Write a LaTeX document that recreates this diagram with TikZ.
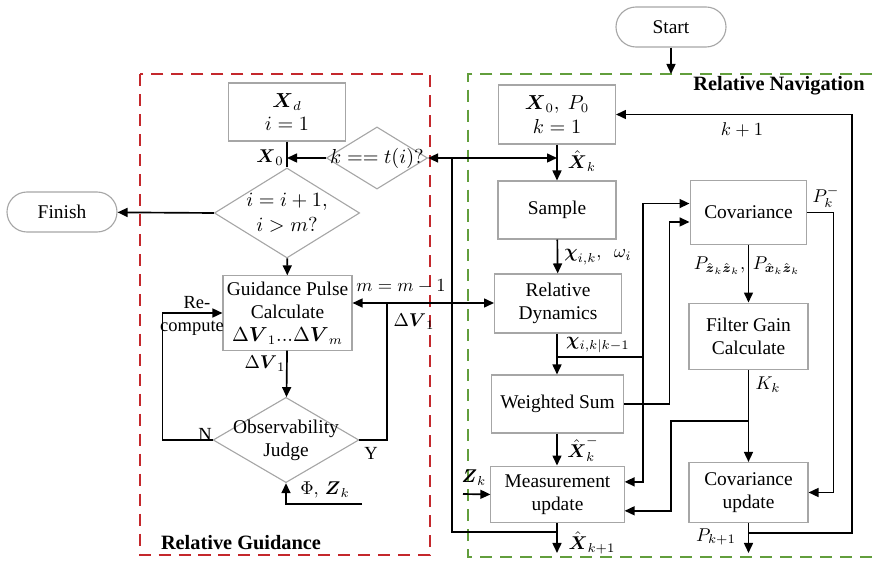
\documentclass[tikz,border=0pt]{standalone}
\usepackage{amsmath,amssymb}
\usepackage{fontspec}
\setmainfont{Liberation Serif}
\usepackage{tikz}
\usetikzlibrary{arrows.meta,shapes.geometric}
\definecolor{guidred}{RGB}{196,40,44}
\definecolor{navgreen}{RGB}{98,158,60}

\begin{document}
\begin{tikzpicture}[x=0.019cm,y=-0.019cm,>={Triangle[length=1.9mm,width=1.7mm]},
  font=\fontsize{10.5}{12.5}\selectfont,line cap=butt,
  box/.style={draw=gray!70,line width=0.6pt,align=center,inner sep=1pt},
  term/.style={box,rounded corners=0.38cm,minimum width=2.09cm,minimum height=0.76cm},
  dia/.style={draw=gray!70,line width=0.6pt,diamond,inner sep=0pt},
  flow/.style={->,line width=0.9pt},
  wire/.style={line width=0.9pt},
  lbl/.style={inner sep=0.5pt,font=\fontsize{10}{12}\selectfont},
  region/.style={line width=1.1pt,dash pattern=on 6.5pt off 4.3pt},
  title/.style={font=\fontsize{11}{13}\selectfont\bfseries}]
\useasboundingbox (0,0) rectangle (872,562);
% dashed regions
\draw[region,guidred] (140,74) rectangle (430,555);
\draw[region,navgreen] (872,74) -- (468,74) -- (468,557) -- (872,557);
\node[title] (navtitle) at (779,86) {Relative Navigation};
\node[title] (guidtitle) at (241,543) {Relative Guidance};
% terminals
\node[term] (start) at (671,27) {Start};
\node[term] (finish) at (62,212) {Finish};
% guidance side
\node[box,minimum width=2.22cm,minimum height=1.10cm] (xd) at (287,112) {$\boldsymbol{X}_d$\\$i=1$};
\node[dia,minimum width=1.92cm,minimum height=1.18cm,label=center:{$k==t(i)?$}] (kt) at (377,158) {};
\node[dia,minimum width=2.76cm,minimum height=1.71cm,label={[align=center]center:$i=i+1,$\\[1pt]$i>m?$}] (idia) at (287,213) {};
\node[box,minimum width=2.45cm,minimum height=1.41cm] (gp) at (287.5,313) {Guidance Pulse\\Calculate\\$\Delta\boldsymbol{V}_1...\Delta\boldsymbol{V}_m$};
\node[dia,minimum width=2.77cm,minimum height=1.62cm,label={[align=center]center:Observability\\Judge}] (obs) at (286,440) {};
% navigation side
\node[box,minimum width=2.22cm,minimum height=1.12cm] (x0) at (557,114.5) {$\boldsymbol{X}_0,\ P_0$\\$k=1$};
\node[box,minimum width=2.24cm,minimum height=1.10cm] (sample) at (557,210) {Sample};
\node[box,minimum width=2.41cm,minimum height=1.12cm] (reldyn) at (558,303.5) {Relative\\Dynamics};
\node[box,minimum width=2.51cm,minimum height=1.10cm] (wsum) at (557.5,404) {Weighted Sum};
\node[box,minimum width=2.53cm,minimum height=1.08cm] (meas) at (557.5,494.5) {Measurement\\update};
\node[box,minimum width=2.22cm,minimum height=1.20cm] (cov) at (748.5,212.5) {Covariance};
\node[box,minimum width=2.26cm,minimum height=1.27cm] (fgain) at (748.5,336.5) {Filter Gain\\Calculate};
\node[box,minimum width=2.26cm,minimum height=1.14cm] (covup) at (748.5,492.5) {Covariance\\update};
% free ends
\coordinate (navin) at (671,74);
\coordinate (fb) at (452,158);
\coordinate (fbb) at (452,532);
\coordinate (kl) at (852,533);
\coordinate (outlvl) at (0,553);
\coordinate (yj) at (387,303);
\coordinate (phin) at (362,504);
\coordinate (chi) at (557,357);
\coordinate (busa) at (643,357);
\coordinate (kb) at (748,421);
\coordinate (zin) at (463,494);
% guidance connectors
\draw[flow] (start) -- (navin);
\draw[wire] (xd) -- (idia);
\draw[flow] (kt.west) -- (xd.south |- kt.west);
\draw[flow] (idia.west) -- (finish);
\draw[flow] (idia) -- (gp);
\draw[flow] (gp) -- (obs);
\draw[flow] (obs.west) -- ++(-50,0) |- (gp.west);
\draw[wire] (obs.east) -| (yj);
\draw[flow] (yj) -- (yj -| gp.east);
\draw[flow] (yj) -- (yj -| reldyn.west);
\draw[flow] (phin) -- (phin -| obs.south) -- (obs.south);
% feedback of the state
\draw[flow] (fb) -- (kt.east);
\draw[flow] (fb) -- (x0.south |- fb);
\draw[wire] (meas.south |- fbb) -- (fbb) -- (fb);
% navigation connectors
\draw[flow] (x0) -- (sample);
\draw[flow] (sample) -- (reldyn);
\draw[flow] (reldyn.south -| chi) -- (chi |- wsum.north);
\draw[wire] (chi) -- (busa);
\draw[flow] (busa) |- ([yshift=0.17cm]cov.west);
\draw[flow] (busa) |- ([yshift=0.24cm]meas.east);
\draw[flow] (wsum.east) -- ++(45.5,0) |- ([yshift=-0.18cm]cov.west);
\draw[flow] (cov) -- (fgain);
\draw[flow] (fgain) -- (covup);
\draw[flow] (kb) -- (671,421) |- ([yshift=-0.31cm]meas.east);
\draw[flow] (wsum.south -| chi) -- (chi |- meas.north);
\draw[flow] (zin) -- (meas.west);
\draw[flow] (meas.south -| chi) -- (chi |- outlvl);
\draw[flow] (cov.east) -- ++(26,0) |- (covup.east);
\draw[flow] (covup.south) -- (covup.south |- outlvl);
\draw[flow] (covup.south |- kl) -- (kl) |- (x0.east);
% labels
\node[lbl] (lx0) at (270,158) {$\boldsymbol{X}_0$};
\node[lbl] (ldv) at (265,364) {$\Delta\boldsymbol{V}_1$};
\node[lbl] (lre) at (197,303) {Re-};
\node[lbl] (lcomp) at (192,328) {compute};
\node[lbl] (ln) at (205,434) {N};
\node[lbl] (ly) at (371,453) {Y};
\node[lbl] (lmm) at (401,286) {$m=m-1$};
\node[lbl] (ldvr) at (414,322) {$\Delta\boldsymbol{V}_1$};
\node[lbl] (lphi) at (325,490) {$\Phi,\,\boldsymbol{Z}_k$};
\node[lbl] (lxk) at (582,161) {$\hat{\boldsymbol{X}}_k$};
\node[lbl] (lchi) at (598,257) {$\boldsymbol{\chi}_{i,k},\ \ \omega_i$};
\node[lbl] (lchip) at (598,345) {$\boldsymbol{\chi}_{i,k|k-1}$};
\node[lbl] (lxm) at (583,449) {$\hat{\boldsymbol{X}}_k^-$};
\node[lbl] (lz) at (474,478) {$\boldsymbol{Z}_k$};
\node[lbl] (lxn) at (592,543) {$\hat{\boldsymbol{X}}_{k+1}$};
\node[lbl] (lpz) at (747,266) {$P_{\hat{\boldsymbol{z}}_k\hat{\boldsymbol{z}}_k},\ P_{\hat{\boldsymbol{x}}_k\hat{\boldsymbol{z}}_k}$};
\node[lbl] (lkk) at (768,385) {$K_k$};
\node[lbl] (lpk) at (826,197) {$P_k^-$};
\node[lbl] (lpn) at (716,537) {$P_{k+1}$};
\node[lbl] (lk1) at (742,130) {$k+1$};
\end{tikzpicture}
\end{document}
